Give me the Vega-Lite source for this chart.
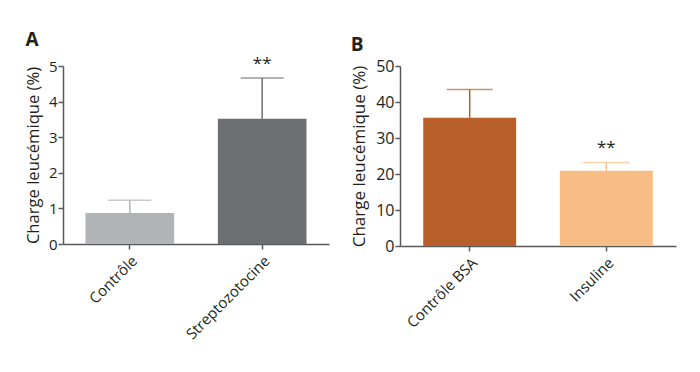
{
  "$schema": "https://vega.github.io/schema/vega-lite/v6.json",
  "background": "white",
  "padding": {"left": 25, "top": 31, "right": 10, "bottom": 5},
  "spacing": 21,
  "resolve": {"scale": {"color": "independent", "y": "independent", "x": "independent"}},
  "config": {
    "font": "Open Sans",
    "view": {"stroke": null},
    "axis": {
      "grid": false,
      "domainColor": "#58595b",
      "domainWidth": 1.5,
      "tickColor": "#58595b",
      "tickWidth": 1.5,
      "tickSize": 5,
      "labelFontSize": 15,
      "labelColor": "#231f20",
      "labelPadding": 4,
      "labelOverlap": false,
      "titleFontSize": 16.6,
      "titleFontWeight": "normal",
      "titleColor": "#231f20"
    },
    "axisY": {"labelPadding": 1, "titlePadding": 7},
    "title": {"fontSize": 19, "fontWeight": "bold", "color": "#231f20"}
  },
  "datasets": {
    "a": [
      {"group": "Contrôle", "value": 0.87, "upper": 1.23, "sig": ""},
      {"group": "Streptozotocine", "value": 3.52, "upper": 4.66, "sig": "**"}
    ],
    "b": [
      {"group": "Contrôle BSA", "value": 35.6, "upper": 43.5, "sig": ""},
      {"group": "Insuline", "value": 20.9, "upper": 23.2, "sig": "**"}
    ]
  },
  "hconcat": [
    {
      "width": 266,
      "height": 178,
      "title": {"text": "A", "anchor": "start", "frame": "bounds", "offset": 5},
      "data": {"name": "a"},
      "encoding": {
        "x": {"field": "group", "type": "nominal", "sort": null,
              "scale": {"paddingInner": 0.33, "paddingOuter": 0.17},
              "axis": {"title": null, "labelAngle": -45}},
        "color": {"field": "group", "type": "nominal", "legend": null,
                  "scale": {"domain": ["Contrôle", "Streptozotocine"], "range": ["#b1b3b6", "#6d6e71"]}}
      },
      "layer": [
        {"mark": {"type": "bar"},
         "encoding": {"y": {"field": "value", "type": "quantitative",
                            "scale": {"domain": [0, 5], "nice": false},
                            "axis": {"title": "Charge leucémique (%)", "values": [0, 1, 2, 3, 4, 5], "tickCount": 6}}}},
        {"mark": {"type": "rule", "strokeWidth": 1.5},
         "encoding": {"y": {"field": "value", "type": "quantitative", "axis": {"title": "Charge leucémique (%)", "values": [0, 1, 2, 3, 4, 5], "tickCount": 6}}, "y2": {"field": "upper"}}},
        {"mark": {"type": "tick", "size": 43, "thickness": 1.5},
         "encoding": {"y": {"field": "upper", "type": "quantitative", "axis": {"title": "Charge leucémique (%)", "values": [0, 1, 2, 3, 4, 5], "tickCount": 6}}}},
        {"mark": {"type": "text", "dy": -14, "fontSize": 17},
         "encoding": {"y": {"field": "upper", "type": "quantitative", "axis": {"title": "Charge leucémique (%)", "values": [0, 1, 2, 3, 4, 5], "tickCount": 6}}, "text": {"field": "sig"}, "color": {"value": "#231f20"}}}
      ]
    },
    {
      "width": 276,
      "height": 180,
      "title": {"text": "B", "anchor": "start", "frame": "bounds", "offset": 3},
      "data": {"name": "b"},
      "encoding": {
        "x": {"field": "group", "type": "nominal", "sort": null,
              "scale": {"paddingInner": 0.32, "paddingOuter": 0.17},
              "axis": {"title": null, "labelAngle": -45}},
        "color": {"field": "group", "type": "nominal", "legend": null,
                  "scale": {"domain": ["Contrôle BSA", "Insuline"], "range": ["#b9602a", "#f8bd84"]}}
      },
      "layer": [
        {"mark": {"type": "bar"},
         "encoding": {"y": {"field": "value", "type": "quantitative",
                            "scale": {"domain": [0, 50], "nice": false},
                            "axis": {"title": "Charge leucémique (%)", "values": [0, 10, 20, 30, 40, 50], "tickCount": 6, "labelFontSize": 16, "titleFontSize": 17}}}},
        {"mark": {"type": "rule", "strokeWidth": 1.5},
         "encoding": {"y": {"field": "value", "type": "quantitative", "axis": {"title": "Charge leucémique (%)", "values": [0, 10, 20, 30, 40, 50], "tickCount": 6, "labelFontSize": 16, "titleFontSize": 17}}, "y2": {"field": "upper"}}},
        {"mark": {"type": "tick", "size": 46, "thickness": 1.5},
         "encoding": {"y": {"field": "upper", "type": "quantitative", "axis": {"title": "Charge leucémique (%)", "values": [0, 10, 20, 30, 40, 50], "tickCount": 6, "labelFontSize": 16, "titleFontSize": 17}}}},
        {"mark": {"type": "text", "dy": -14, "fontSize": 17},
         "encoding": {"y": {"field": "upper", "type": "quantitative", "axis": {"title": "Charge leucémique (%)", "values": [0, 10, 20, 30, 40, 50], "tickCount": 6, "labelFontSize": 16, "titleFontSize": 17}}, "text": {"field": "sig"}, "color": {"value": "#231f20"}}}
      ]
    }
  ]
}
